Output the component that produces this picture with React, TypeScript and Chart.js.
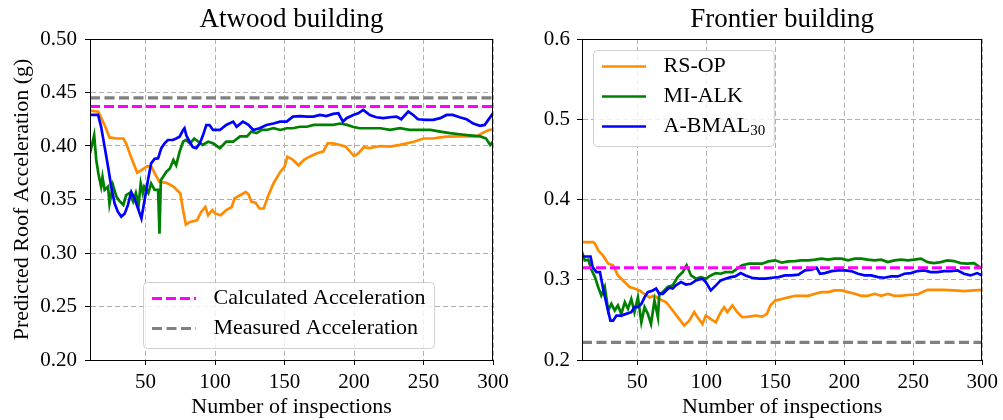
import { useEffect, useRef } from 'react';
import { Chart, registerables } from 'chart.js';

Chart.register(...registerables);

const FONT = '"Liberation Serif", "Times New Roman", serif';

// ---- tick labels ----
const xTicks = [50, 100, 150, 200, 250, 300];
const atwoodYTicks = [0.2, 0.25, 0.3, 0.35, 0.4, 0.45, 0.5];
const frontierYTicks = [0.2, 0.3, 0.4, 0.5, 0.6];

// ---- labels ----
const methodLabels = ['RS-OP', 'MI-ALK', 'A-BMAL_30'];
const refLabels = ['Calculated Acceleration', 'Measured Acceleration'];
const titles = ['Atwood building', 'Frontier building'];

// ---- reference accelerations ----
const atwoodCalculated = 0.437;
const atwoodMeasured = 0.445;
const frontierCalculated = 0.315;
const frontierMeasured = 0.222;
const refX = [10, 300];

// ---- Atwood building ----
const atwoodRsopX = [10, 16, 21, 24, 29, 34, 36, 40, 44, 47, 51, 54, 58, 60, 65, 70, 75, 77, 79, 82, 87, 90, 93, 95, 98, 100, 104, 108, 112, 114, 118, 122, 124, 126, 129, 132, 135, 138, 142, 147, 150, 152, 156, 160, 164, 168, 173, 178, 181, 185, 190, 194, 197, 200, 203, 207, 211, 219, 226, 233, 243, 250, 257, 262, 267, 274, 281, 288, 293, 297, 300];
const atwoodRsopY = [0.433, 0.432, 0.418, 0.408, 0.407, 0.407, 0.4025, 0.388, 0.375, 0.3775, 0.381, 0.381, 0.371, 0.3666, 0.3656, 0.362, 0.3556, 0.34, 0.3266, 0.329, 0.3306, 0.3384, 0.343, 0.3353, 0.34, 0.337, 0.3353, 0.34, 0.343, 0.351, 0.354, 0.357, 0.355, 0.348, 0.347, 0.3416, 0.3416, 0.3525, 0.365, 0.376, 0.3806, 0.39, 0.387, 0.382, 0.387, 0.39, 0.393, 0.395, 0.4025, 0.4025, 0.401, 0.3994, 0.395, 0.3906, 0.393, 0.3988, 0.398, 0.4, 0.3994, 0.401, 0.404, 0.407, 0.407, 0.408, 0.4088, 0.409, 0.409, 0.409, 0.4125, 0.415, 0.4156];

const atwoodMialkX = [10, 13, 14.5, 16, 17, 18, 19, 20.5, 23, 24, 26.5, 29, 31, 34, 36, 38.5, 41, 43, 45, 46.5, 48, 49, 52, 54, 56.5, 59, 60, 61, 62.5, 65, 67.5, 70, 72, 74.5, 77, 79, 82, 85, 88, 91, 95, 98.5, 103.5, 108, 113, 118, 123, 126, 130, 133.5, 137, 142, 147, 151.5, 156, 161, 166, 171, 175.5, 180, 185, 190, 195, 199, 204, 211, 219, 226, 233, 240, 247, 255, 262, 269, 276, 283, 291, 295, 298, 300];
const atwoodMialkY = [0.393, 0.41, 0.387, 0.3745, 0.368, 0.362, 0.371, 0.359, 0.362, 0.346, 0.3635, 0.3527, 0.349, 0.345, 0.354, 0.356, 0.348, 0.356, 0.345, 0.365, 0.356, 0.362, 0.356, 0.365, 0.359, 0.359, 0.318, 0.368, 0.371, 0.376, 0.379, 0.387, 0.382, 0.3947, 0.404, 0.4056, 0.4025, 0.407, 0.404, 0.401, 0.404, 0.4025, 0.398, 0.404, 0.404, 0.409, 0.409, 0.4134, 0.412, 0.415, 0.415, 0.4166, 0.415, 0.4166, 0.4166, 0.418, 0.418, 0.4197, 0.4197, 0.4197, 0.4197, 0.421, 0.4197, 0.418, 0.4166, 0.4166, 0.4166, 0.415, 0.4166, 0.415, 0.415, 0.415, 0.4134, 0.412, 0.411, 0.41, 0.409, 0.407, 0.401, 0.404];

const atwoodAbmalX = [10, 15.8, 18, 20.5, 23, 25.3, 27.7, 30, 32.5, 35, 37.3, 39.7, 42, 44.5, 47, 49.3, 51.7, 54, 56.5, 59, 61.3, 63.7, 66, 69.7, 72, 74.5, 77, 78, 79.3, 81.7, 84, 86.5, 89, 91.3, 93.7, 96, 98.5, 101, 103.5, 108, 113, 115.5, 120, 124, 127.5, 132, 137, 142, 146.7, 151.5, 156, 161, 166, 170.7, 175.5, 180, 185, 188.7, 192, 194.6, 199.4, 203, 206.6, 211.4, 216, 221, 225.8, 230.6, 234, 239, 242.6, 246, 252, 257, 262, 266.6, 271, 276, 281, 285.8, 290.6, 294, 296.6, 300];
const atwoodAbmalY = [0.429, 0.429, 0.418, 0.3994, 0.3807, 0.362, 0.3464, 0.3386, 0.334, 0.337, 0.345, 0.357, 0.351, 0.3417, 0.3324, 0.3496, 0.368, 0.3838, 0.388, 0.3885, 0.398, 0.4025, 0.4056, 0.4056, 0.407, 0.4087, 0.415, 0.4166, 0.41, 0.404, 0.399, 0.398, 0.4025, 0.41, 0.4196, 0.4196, 0.415, 0.415, 0.415, 0.4197, 0.4228, 0.418, 0.4228, 0.4197, 0.415, 0.4166, 0.4197, 0.421, 0.4228, 0.4228, 0.4275, 0.428, 0.4275, 0.4275, 0.429, 0.428, 0.43, 0.4306, 0.4228, 0.426, 0.429, 0.4306, 0.4338, 0.429, 0.4269, 0.426, 0.4269, 0.4275, 0.425, 0.4322, 0.429, 0.425, 0.4244, 0.4244, 0.426, 0.429, 0.429, 0.4269, 0.425, 0.421, 0.4188, 0.4197, 0.4244, 0.4306];

// ---- Frontier building ----
const frontierRsopX = [10, 18, 19.4, 21.7, 25.3, 29, 32.5, 36, 39.7, 44.5, 48, 51.7, 55, 59, 62.5, 66, 71, 75.7, 80.5, 84, 87.7, 91.3, 93.7, 97.3, 99.7, 103.3, 107, 110.5, 113, 115.3, 119, 122.5, 126, 131, 135.7, 140.5, 144, 146.5, 150, 154.8, 159.6, 164.4, 169, 174, 178.8, 183.6, 188.4, 193, 198, 202.8, 207.6, 212.4, 217, 222, 226.8, 231.6, 236.4, 241, 246, 253, 256.8, 260.4, 265, 272, 279.5, 286.7, 294, 300];
const frontierRsopY = [0.347, 0.347, 0.345, 0.3367, 0.33, 0.32, 0.318, 0.3054, 0.299, 0.291, 0.289, 0.2867, 0.2825, 0.278, 0.28, 0.276, 0.272, 0.2617, 0.251, 0.243, 0.249, 0.2596, 0.2533, 0.245, 0.2554, 0.251, 0.247, 0.2596, 0.2658, 0.2596, 0.268, 0.2596, 0.2533, 0.254, 0.2554, 0.254, 0.2575, 0.268, 0.2742, 0.276, 0.278, 0.28, 0.28, 0.28, 0.2825, 0.2846, 0.2846, 0.2867, 0.2867, 0.2846, 0.2825, 0.28, 0.28, 0.2825, 0.28, 0.2825, 0.28, 0.28, 0.281, 0.2817, 0.2846, 0.2875, 0.2875, 0.2875, 0.2867, 0.2858, 0.2867, 0.2875];

const frontierMialkX = [10, 12, 14.5, 17, 19.4, 21.7, 24, 26.5, 29, 31.3, 33.7, 36, 38.5, 41, 43.3, 45.7, 48, 50.5, 53, 55.3, 57.7, 60, 62.5, 65, 66, 68.5, 72, 75.7, 79.3, 83, 85.8, 89, 92.5, 96, 99.7, 103.3, 107, 110.5, 114, 119, 122.5, 126, 131, 135.7, 140.5, 145, 150, 154.8, 159.6, 164.4, 169, 174, 178.8, 183.6, 188.4, 193, 198, 202.8, 207.6, 212.4, 217, 222, 226.8, 231.6, 236.4, 241, 246, 250.8, 255.6, 260.4, 265, 270, 274.7, 279.5, 284.3, 289, 294, 298.7, 300];
const frontierMialkY = [0.3346, 0.324, 0.325, 0.3117, 0.3033, 0.291, 0.2804, 0.291, 0.2617, 0.27, 0.2617, 0.268, 0.2575, 0.272, 0.2638, 0.276, 0.2596, 0.278, 0.247, 0.2658, 0.2575, 0.245, 0.2742, 0.2533, 0.2825, 0.2846, 0.291, 0.293, 0.3033, 0.3096, 0.318, 0.3054, 0.3013, 0.3033, 0.3013, 0.3054, 0.3083, 0.3075, 0.3096, 0.3096, 0.3138, 0.318, 0.32, 0.32, 0.32, 0.3229, 0.3242, 0.3213, 0.3229, 0.3233, 0.3242, 0.3242, 0.325, 0.3263, 0.325, 0.3263, 0.3263, 0.3242, 0.3263, 0.3263, 0.325, 0.3242, 0.325, 0.322, 0.3242, 0.325, 0.3242, 0.325, 0.3263, 0.322, 0.3208, 0.322, 0.3242, 0.3233, 0.3208, 0.32, 0.3208, 0.315, 0.3138];

const frontierAbmalX = [10, 16.2, 17.7, 20.5, 23, 25.3, 27.7, 30.6, 32.5, 35, 38.5, 42, 45.7, 48, 50.5, 53, 55.3, 57.7, 61.3, 63.7, 66, 68.5, 71, 73.3, 75.7, 78, 81.7, 85.3, 89, 92.5, 97.3, 99.7, 103.3, 107, 110.5, 114, 117.7, 121, 125, 128.5, 133, 138, 142.8, 147.6, 152.4, 157, 162, 166.8, 171.6, 176.4, 180, 182.4, 186, 190.8, 195.6, 200.4, 205, 210, 214.8, 219.6, 224.4, 229, 234, 238.8, 243.6, 248.4, 253, 258, 262.7, 267.5, 272.3, 277, 282, 286.7, 291.5, 296.3, 300];
const frontierAbmalY = [0.329, 0.329, 0.3158, 0.3096, 0.3096, 0.289, 0.27, 0.249, 0.249, 0.2554, 0.2554, 0.2575, 0.2596, 0.2658, 0.2658, 0.27, 0.278, 0.2846, 0.2867, 0.289, 0.2825, 0.2825, 0.2867, 0.29, 0.289, 0.293, 0.297, 0.294, 0.295, 0.2992, 0.3013, 0.297, 0.2867, 0.293, 0.2992, 0.3013, 0.3033, 0.3042, 0.3083, 0.3054, 0.3025, 0.3013, 0.3013, 0.3025, 0.3033, 0.3054, 0.3054, 0.3063, 0.3117, 0.3125, 0.315, 0.3075, 0.3083, 0.3108, 0.3117, 0.3117, 0.3108, 0.3075, 0.3054, 0.3054, 0.3033, 0.3025, 0.3042, 0.3042, 0.3075, 0.3083, 0.3108, 0.3117, 0.3096, 0.3096, 0.3108, 0.3108, 0.3117, 0.3075, 0.3054, 0.3083, 0.3054];

const COLORS = { rsop: '#ff8c00', mialk: '#008000', abmal: '#0000ff', calc: '#ff00ff', meas: '#808080' };

const pts = (xs: number[], ys: number[]) => xs.map((x, i) => ({ x, y: ys[i] }));

function splitLabel(label: string) {
  const i = label.indexOf('_');
  return i < 0 ? { main: label, sub: '' } : { main: label.slice(0, i), sub: label.slice(i + 1) };
}

const framePlugin = {
  id: 'frame',
  afterDraw(chart: any) {
    const { ctx, chartArea: a } = chart;
    ctx.save();
    ctx.strokeStyle = '#000';
    ctx.lineWidth = 1;
    ctx.setLineDash([]);
    ctx.strokeRect(Math.round(a.left) + 0.5, Math.round(a.top) + 0.5, Math.round(a.right - a.left) - 1, Math.round(a.bottom - a.top));
    ctx.restore();
  },
};

function roundedRect(ctx: CanvasRenderingContext2D, x: number, y: number, w: number, h: number, r: number) {
  ctx.beginPath();
  ctx.moveTo(x + r, y);
  ctx.lineTo(x + w - r, y);
  ctx.arcTo(x + w, y, x + w, y + r, r);
  ctx.lineTo(x + w, y + h - r);
  ctx.arcTo(x + w, y + h, x + w - r, y + h, r);
  ctx.lineTo(x + r, y + h);
  ctx.arcTo(x, y + h, x, y + h - r, r);
  ctx.lineTo(x, y + r);
  ctx.arcTo(x, y, x + r, y, r);
  ctx.closePath();
}

const boxLegendPlugin = {
  id: 'boxLegend',
  afterDraw(chart: any, _args: any, opts: any) {
    if (!opts || !opts.items) return;
    const { ctx, chartArea: a } = chart;
    const mainFont = `22px ${FONT}`;
    const subFont = `15px ${FONT}`;
    const rows = opts.items.map((i: number) => chart.data.datasets[i]);
    ctx.save();
    const widths = rows.map((ds: any) => {
      const p = splitLabel(ds.label);
      ctx.font = mainFont;
      let w = ctx.measureText(p.main).width;
      if (p.sub) {
        ctx.font = subFont;
        w += ctx.measureText(p.sub).width;
      }
      return w;
    });
    const textW = Math.max(...widths);
    const padL = 8.5, sample = 44, gap = 17.5, padR = 9, rowH = 30, topPad = 16, botPad = 20;
    const w = padL + sample + gap + textW + padR;
    const h = topPad + (rows.length - 1) * rowH + botPad;
    const x0 = Math.round(a.left + opts.dx) + 0.5;
    const y0 = Math.round(opts.anchor === 'bottom' ? a.bottom - opts.dy - h : a.top + opts.dy) + 0.5;
    roundedRect(ctx, x0, y0, w, h, 4);
    ctx.fillStyle = 'rgba(255,255,255,0.8)';
    ctx.fill();
    ctx.strokeStyle = '#d0d0d0';
    ctx.lineWidth = 1;
    ctx.stroke();
    rows.forEach((ds: any, k: number) => {
      const y = y0 + topPad + k * rowH;
      ctx.beginPath();
      ctx.setLineDash(ds.borderDash || []);
      ctx.strokeStyle = ds.borderColor;
      ctx.lineWidth = ds.borderWidth;
      ctx.moveTo(x0 + padL, y);
      ctx.lineTo(x0 + padL + sample, y);
      ctx.stroke();
      ctx.setLineDash([]);
      const p = splitLabel(ds.label);
      ctx.fillStyle = '#000';
      ctx.textBaseline = 'middle';
      ctx.textAlign = 'left';
      ctx.font = mainFont;
      const tx = x0 + padL + sample + gap;
      ctx.fillText(p.main, tx, y);
      if (p.sub) {
        const mw = ctx.measureText(p.main).width;
        ctx.font = subFont;
        ctx.fillText(p.sub, tx + mw, y + 5);
      }
    });
    ctx.restore();
  },
};

function buildDatasets(rs: any[], mi: any[], ab: any[], calc: number, meas: number) {
  return [
    { label: methodLabels[0], data: rs, borderColor: COLORS.rsop, borderWidth: 2.7, order: 3 },
    { label: methodLabels[1], data: mi, borderColor: COLORS.mialk, borderWidth: 2.7, order: 2 },
    { label: methodLabels[2], data: ab, borderColor: COLORS.abmal, borderWidth: 2.7, order: 1 },
    { label: refLabels[0], data: refX.map((x) => ({ x, y: calc })), borderColor: COLORS.calc, borderWidth: 3, borderDash: [10, 4], order: 0 },
    { label: refLabels[1], data: refX.map((x) => ({ x, y: meas })), borderColor: COLORS.meas, borderWidth: 3.2, borderDash: [10, 4.5], order: 0 },
  ].map((d) => ({ ...d, pointRadius: 0, tension: 0, fill: false, backgroundColor: d.borderColor }));
}

function buildOptions(cfg: any) {
  const gridOpts = { color: '#b0b0b0', lineWidth: 1, tickColor: '#000', tickLength: 5, tickWidth: 1, tickBorderDash: [] };
  const borderOpts = { display: true, color: '#000', width: 1, dash: [5, 3] };
  return {
    animation: false,
    responsive: false,
    maintainAspectRatio: false,
    layout: { padding: { left: 0, right: cfg.padRight, top: 0, bottom: 0 } },
    plugins: {
      legend: { display: false },
      tooltip: { enabled: false },
      title: {
        display: true,
        text: cfg.title,
        fullSize: false,
        color: '#000',
        font: { family: FONT, size: 27, weight: 'normal' },
        padding: { top: 4, bottom: 2.6 },
      },
      boxLegend: cfg.legend,
    },
    scales: {
      x: {
        type: 'linear',
        min: 10,
        max: 300,
        afterBuildTicks: (s: any) => {
          s.ticks = xTicks.map((v) => ({ value: v }));
        },
        afterFit: (s: any) => {
          s.height = 60;
        },
        ticks: {
          color: '#000',
          font: { family: FONT, size: 21 },
          padding: 5,
          maxRotation: 0,
          autoSkip: false,
          callback: (v: any) => String(v),
        },
        grid: gridOpts,
        border: borderOpts,
        title: {
          display: true,
          text: 'Number of inspections',
          color: '#000',
          font: { family: FONT, size: 22, lineHeight: 1 },
          padding: { top: 0, bottom: 1.5 },
        },
      },
      y: {
        type: 'linear',
        min: cfg.yMin,
        max: cfg.yMax,
        afterBuildTicks: (s: any) => {
          s.ticks = cfg.yTicks.map((v: number) => ({ value: v }));
        },
        afterFit: (s: any) => {
          s.width = cfg.axisWidth;
        },
        ticks: {
          color: '#000',
          font: { family: FONT, size: 21 },
          padding: cfg.tickPad,
          autoSkip: false,
          callback: (v: any) => Number(v).toFixed(cfg.decimals),
        },
        grid: gridOpts,
        border: borderOpts,
        title: {
          display: cfg.yTitle,
          text: 'Predicted Roof Acceleration (g)',
          color: '#000',
          font: { family: FONT, size: 22 },
          padding: { top: 9, bottom: 0 },
        },
      },
    },
  };
}

function PlotCanvas(props: { width: number; left: number; datasets: any[]; options: any }) {
  const ref = useRef<HTMLCanvasElement | null>(null);
  useEffect(() => {
    if (!ref.current) return;
    const chart = new Chart(ref.current, {
      type: 'line',
      data: { datasets: props.datasets },
      options: props.options,
      plugins: [framePlugin, boxLegendPlugin],
    } as any);
    return () => chart.destroy();
  }, []);
  return (
    <canvas
      ref={ref}
      width={props.width}
      height={420}
      style={{ position: 'absolute', left: props.left, top: 0, width: props.width, height: 420 }}
    />
  );
}

export default function App() {
  const atwoodData = buildDatasets(
    pts(atwoodRsopX, atwoodRsopY),
    pts(atwoodMialkX, atwoodMialkY),
    pts(atwoodAbmalX, atwoodAbmalY),
    atwoodCalculated,
    atwoodMeasured
  );
  const frontierData = buildDatasets(
    pts(frontierRsopX, frontierRsopY),
    pts(frontierMialkX, frontierMialkY),
    pts(frontierAbmalX, frontierAbmalY),
    frontierCalculated,
    frontierMeasured
  );
  const atwoodOpts = buildOptions({
    title: titles[0],
    padRight: 27,
    yMin: 0.2,
    yMax: 0.5,
    yTicks: atwoodYTicks,
    decimals: 2,
    axisWidth: 90,
    tickPad: 8,
    yTitle: true,
    legend: { items: [3, 4], anchor: 'bottom', dx: 53, dy: 12 },
  });
  const frontierOpts = buildOptions({
    title: titles[1],
    padRight: 18,
    yMin: 0.2,
    yMax: 0.6,
    yTicks: frontierYTicks,
    decimals: 1,
    axisWidth: 82,
    tickPad: 7,
    yTitle: false,
    legend: { items: [0, 1, 2], anchor: 'top', dx: 11, dy: 11 },
  });
  return (
    <div style={{ position: 'fixed', left: 0, top: 0, width: 1003, height: 420, background: '#fff', overflow: 'hidden' }}>
      <PlotCanvas width={520} left={0} datasets={atwoodData} options={atwoodOpts} />
      <PlotCanvas width={503} left={500} datasets={frontierData} options={frontierOpts} />
    </div>
  );
}
